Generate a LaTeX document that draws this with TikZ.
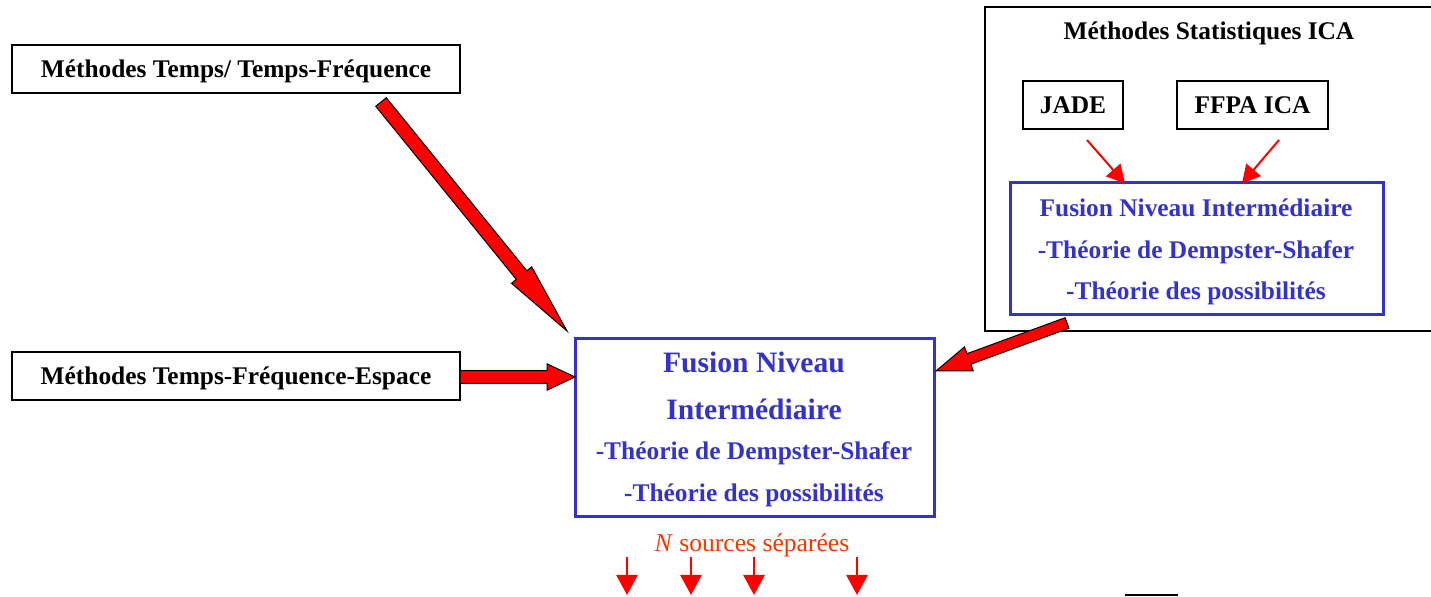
\documentclass[tikz,border=0pt]{standalone}
\usepackage{fontspec}
\setmainfont{Liberation Serif}
\usetikzlibrary{calc,arrows.meta}
\definecolor{fblue}{RGB}{51,51,204}
\definecolor{nred}{RGB}{255,51,0}
% #1 from, #2 to, #3 shaft half width, #4 head half width, #5 head length
\newcommand{\blockarrow}[5]{%
  \coordinate (ba-q) at ($(#2)!#5!(#1)$);
  \draw[blockarr] ($(#1)!#3!90:(#2)$) -- ($(ba-q)!#3!90:(#2)$) -- ($(ba-q)!#4!90:(#2)$)
    -- (#2) -- ($(ba-q)!#4!-90:(#2)$) -- ($(ba-q)!#3!-90:(#2)$) -- ($(#1)!#3!-90:(#2)$) -- cycle;
}
\begin{document}
\begin{tikzpicture}[x=0.5pt,y=-0.5pt,
  blackbox/.style={draw=black,line width=1pt,rectangle,inner sep=0pt,
    font=\fontsize{12.7}{15}\selectfont\bfseries,text height=8.5pt,text depth=0pt},
  bluebox/.style={draw=fblue,line width=1.5pt,rectangle,inner sep=0pt},
  bluetxt/.style={text=fblue,font=\fontsize{12.7}{15}\selectfont\bfseries,anchor=base,inner sep=0pt},
  bigbluetxt/.style={text=fblue,font=\fontsize{14.8}{17}\selectfont\bfseries,anchor=base,inner sep=0pt},
  titletxt/.style={font=\fontsize{12.7}{15}\selectfont\bfseries,anchor=base,inner sep=0pt},
  blockarr/.style={fill=red,draw=black,line width=0.5pt,line join=miter},
  thinarr/.style={draw=red,line width=1pt,-{Triangle[length=9pt,width=9.5pt]}},
  downarr/.style={draw=red,line width=1.4pt,-{Triangle[length=10pt,width=10.5pt]}}]
\useasboundingbox (0,0) rectangle (1431,597);
\clip (0,0) rectangle (1431,597);

% left boxes
\node[blackbox,minimum width=224pt,minimum height=24pt] (tf) at (236,69) {Méthodes Temps/ Temps-Fréquence};
\node[blackbox,minimum width=224pt,minimum height=24pt,text height=9pt] (tfe) at (236,376) {Méthodes Temps-Fréquence-Espace};

% main fusion box
\node[bluebox,minimum width=179.5pt,minimum height=89pt] (main) at (754.5,428) {};
\node[bigbluetxt] (m1) at (754,373) {Fusion Niveau};
\node[bigbluetxt] (m2) at (754,420) {Intermédiaire};
\node[bluetxt] (m3) at (754,460) {-Théorie de Dempster-Shafer};
\node[bluetxt] (m4) at (754,502) {-Théorie des possibilités};

% ICA group
\node[draw=black,line width=1pt,rectangle,inner sep=0pt,minimum width=225.5pt,minimum height=162pt] (ica) at (1210.5,169) {};
\node[titletxt] (icat) at (1209,40) {Méthodes Statistiques ICA};
\node[blackbox,minimum width=50pt,minimum height=24pt] (jade) at (1073,105) {JADE};
\node[blackbox,minimum width=75.5pt,minimum height=24pt] (ffpa) at (1252.5,105) {FFPA ICA};
\node[bluebox,minimum width=186.5pt,minimum height=66pt] (fi) at (1196.5,249) {};
\node[bluetxt] (f1) at (1196,217) {Fusion Niveau Intermédiaire};
\node[bluetxt] (f2) at (1196,259) {-Théorie de Dempster-Shafer};
\node[bluetxt] (f3) at (1196,300) {-Théorie des possibilités};

% thin arrows inside ICA
\coordinate (j1) at (1087,140);
\coordinate (j2) at (1125,183.5);
\coordinate (p1) at (1279,140);
\coordinate (p2) at (1242,183.5);
\draw[thinarr] (j1) -- (j2);
\draw[thinarr] (p1) -- (p2);

% block arrows
\coordinate (a1s) at (381,102);
\coordinate (a1e) at (567,331);
\coordinate (a2s) at (460,377);
\coordinate (a2e) at (575,377);
\coordinate (a3s) at (1067,323);
\coordinate (a3e) at (936,371);
\blockarrow{a1s}{a1e}{3.4pt}{6.5pt}{36pt}
\blockarrow{a2s}{a2e}{3.2pt}{6.6pt}{14pt}
\blockarrow{a3s}{a3e}{2.8pt}{6.4pt}{17.5pt}

% separated sources
\node[text=nred,font=\fontsize{12.8}{15}\selectfont,anchor=base,inner sep=0pt] (ns) at (752,552) {\textit{N} sources séparées};
\foreach \i/\x in {1/627,2/691,3/754,4/857}{
  \coordinate (d\i s) at (\x,557);
  \coordinate (d\i e) at (\x,595);
  \draw[downarr] (d\i s) -- (d\i e);
}

% edge of a cut-off box at the bottom
\coordinate (b1) at (1125,595.5);
\coordinate (b2) at (1178,595.5);
\draw[line width=1pt] (b1) -- (b2);
\end{tikzpicture}
\end{document}
